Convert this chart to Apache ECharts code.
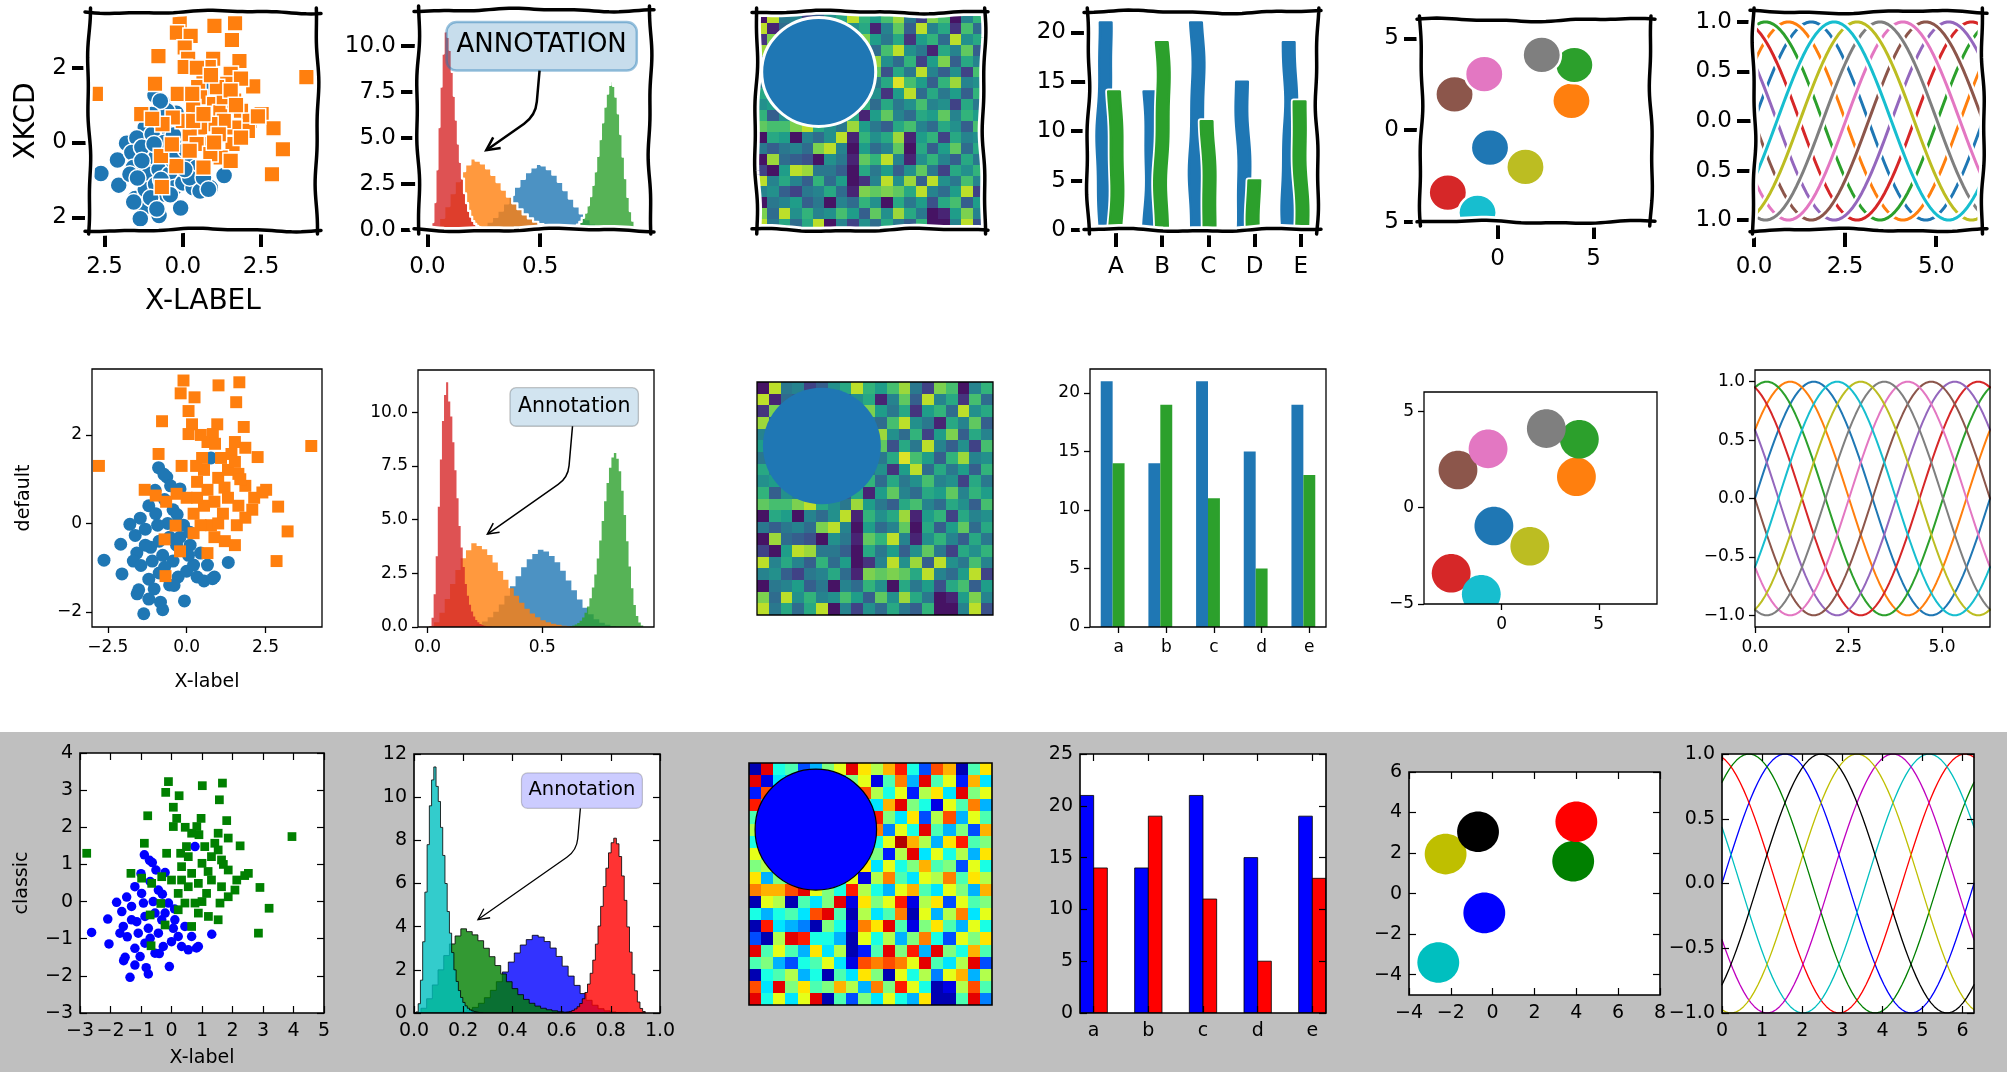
<!DOCTYPE html>
<html>
<head>
<meta charset="utf-8">
<script src="https://cdn.jsdelivr.net/npm/echarts@6.0.0/dist/echarts.min.js"></script>
<style>
  html, body { margin: 0; padding: 0; background: #ffffff; }
  #chart { width: 2007px; height: 1072px; }
</style>
</head>
<body>
<div id="chart"></div>
<script>
// ---------------------------------------------------------------------------
// Data
// ---------------------------------------------------------------------------

// Scatter: two point clouds (circles and squares)
const blueX = [-2.62,-2.09,-2.05,-1.80,-1.52,-1.20,-1.36,-0.76,-0.07,-0.89,-0.63,-0.21,-1.20,-1.47,-0.98,-1.63,-1.31,-1.58,-1.14,-0.87,-0.54,-1.09,-0.76,-0.43,-1.20,-0.87,-0.27,0.00,0.33,0.55,0.88,1.32,0.77,0.11,0.44,-0.10,-0.43,-0.70,-0.32,-1.69,-0.54,0.22,0.66,-1.31,-0.60,-0.92,0.06,-0.21,-0.70,-1.03,-0.40,0.82,-1.57,-0.83,-0.51,-0.72,-1.00,-0.30,0.10,-1.45];
const blueY = [-0.83,-0.47,-1.14,-0.02,-1.50,-1.71,-2.04,-1.95,-1.75,1.26,1.05,0.78,0.40,0.12,0.22,-0.27,-0.13,-0.67,-0.54,-0.40,-0.31,-0.85,-0.72,-0.85,-1.26,-1.12,-1.21,-1.08,-1.21,-1.30,-1.21,-0.88,1.48,-0.49,-0.67,-0.04,0.31,0.54,-0.49,-0.85,-1.39,-0.94,-0.94,-0.49,0.00,-0.04,-0.72,-0.31,-0.99,-1.48,-1.40,-1.25,-1.59,-1.78,0.85,1.11,0.75,0.20,-0.20,-0.95];
const squareX = [-2.78,-0.10,-0.19,0.25,1.01,1.67,1.57,0.06,0.17,0.06,-0.78,0.97,1.81,-0.89,-0.16,-1.33,2.25,2.52,2.85,0.66,0.83,1.53,1.42,1.86,0.49,0.55,0.33,1.00,1.20,1.64,1.86,2.14,2.08,1.64,1.31,0.88,0.55,0.22,0.00,-0.32,-0.65,-0.98,0.77,0.44,1.59,1.86,1.21,1.53,0.88,0.66,-0.21,-0.70,-0.67,-0.35,1.31,1.09,1.53,0.33,0.66,1.15,0.22,3.95,3.20,2.90,0.45,1.70,0.90,0.30,2.40,1.00];
const squareY = [1.30,3.23,2.94,2.85,3.12,3.19,2.74,2.54,2.24,2.02,2.31,2.24,2.18,1.57,1.30,0.76,1.50,0.76,-0.85,1.84,2.02,1.84,1.57,1.71,1.48,1.21,0.94,1.03,0.81,1.12,0.85,0.58,0.31,0.40,0.58,0.49,0.40,0.22,0.58,0.67,0.49,0.63,-0.04,-0.04,-0.04,0.13,-0.40,-0.49,-0.31,-0.67,-0.63,-0.36,-1.19,-0.05,1.21,1.48,1.39,0.58,0.76,0.22,-0.22,1.75,-0.18,0.38,2.00,1.00,1.80,1.30,0.70,0.00];

// Histograms (density, 30 bins each): bin range and bar heights
const histLo = [0.14, 0.005, 0.62, 0.008];
const histHi = [0.87, 0.700, 0.94, 0.280];
const histCenterPeak = [0.01,0.03,0.07,0.14,0.26,0.45,0.71,1.05,1.45,1.90,2.36,2.78,3.15,3.40,3.60,3.52,3.31,3.01,2.62,2.17,1.71,1.28,0.90,0.59,0.36,0.20,0.10,0.05,0.02,0.01];
const histLowSkew = [0.02,0.22,0.66,1.30,2.00,2.66,3.20,3.57,3.90,3.77,3.62,3.35,3.00,2.61,2.20,1.81,1.45,1.13,0.85,0.63,0.45,0.32,0.22,0.15,0.10,0.06,0.04,0.02,0.01,0.005];
const histHighPeak = [0.04,0.07,0.12,0.19,0.29,0.44,0.66,0.95,1.34,1.84,2.45,3.19,4.03,4.94,5.86,6.71,7.42,7.89,8.10,7.84,7.25,6.35,5.22,3.99,2.82,1.80,1.03,0.51,0.21,0.07];
const histNarrow = [0.05,0.43,1.52,3.30,5.60,7.80,9.60,10.80,11.40,10.50,9.80,8.60,7.30,6.00,4.70,3.70,2.80,2.00,1.46,1.04,0.72,0.49,0.33,0.22,0.14,0.09,0.06,0.04,0.02,0.01];
const histHeights = [histCenterPeak, histLowSkew, histHighPeak, histNarrow];
const annotationTarget = [0.25, 4.25];

// Image: 20 x 20 grid of values in [0, 1], plus a round patch
const imageRows = [
  [0.05,0.90,0.40,0.45,0.20,0.30,0.50,0.60,0.90,0.65,0.55,0.70,0.85,0.40,0.20,0.80,0.70,0.05,0.45,0.65],
  [0.90,0.10,0.35,0.30,0.20,0.20,0.20,0.30,0.50,0.60,0.10,0.45,0.75,0.30,0.90,0.45,0.60,0.15,0.70,0.35],
  [0.15,0.80,0.40,0.20,0.20,0.20,0.20,0.30,0.50,0.80,0.55,0.40,0.60,0.15,0.55,0.65,0.35,0.90,0.50,0.60],
  [0.85,0.30,0.50,0.20,0.20,0.20,0.20,0.30,0.60,0.45,0.35,0.70,0.90,0.50,0.40,0.10,0.60,0.45,0.75,0.30],
  [0.45,0.60,0.30,0.20,0.20,0.20,0.20,0.30,0.70,0.30,0.85,0.50,0.35,0.65,0.20,0.55,0.80,0.30,0.60,0.45],
  [0.55,0.35,0.20,0.20,0.20,0.20,0.20,0.30,0.45,0.55,0.75,0.25,0.60,0.40,0.90,0.45,0.30,0.50,0.20,0.70],
  [0.40,0.70,0.20,0.20,0.20,0.20,0.20,0.30,0.35,0.60,0.40,0.60,0.95,0.70,0.55,0.30,0.65,0.85,0.45,0.50],
  [0.60,0.45,0.20,0.20,0.20,0.20,0.20,0.30,0.70,0.40,0.50,0.15,0.55,0.90,0.35,0.60,0.40,0.55,0.30,0.65],
  [0.50,0.55,0.40,0.20,0.20,0.20,0.20,0.30,0.75,0.65,0.35,0.60,0.40,0.50,0.70,0.45,0.50,0.20,0.60,0.40],
  [0.65,0.30,0.50,0.45,0.20,0.20,0.20,0.30,0.60,0.10,0.55,0.75,0.45,0.35,0.60,0.55,0.75,0.45,0.65,0.55],
  [0.75,0.70,0.70,0.80,0.90,0.60,0.50,0.40,0.85,0.55,0.40,0.30,0.60,0.70,0.45,0.35,0.60,0.50,0.30,0.70],
  [0.05,0.60,0.55,0.05,0.45,0.35,0.50,0.90,0.10,0.65,0.50,0.60,0.85,0.10,0.55,0.65,0.20,0.60,0.45,0.50],
  [0.40,0.30,0.40,0.45,0.35,0.80,0.90,0.45,0.05,0.55,0.35,0.45,0.75,0.05,0.60,0.30,0.55,0.75,0.35,0.60],
  [0.05,0.85,0.35,0.30,0.25,0.05,0.50,0.40,0.10,0.75,0.65,0.90,0.45,0.10,0.50,0.65,0.45,0.30,0.60,0.40],
  [0.20,0.05,0.55,0.90,0.85,0.40,0.40,0.30,0.05,0.60,0.40,0.55,0.30,0.50,0.75,0.40,0.20,0.60,0.50,0.65],
  [0.90,0.45,0.60,0.45,0.30,0.65,0.35,0.55,0.05,0.15,0.45,0.90,0.50,0.85,0.30,0.90,0.50,0.40,0.70,0.45],
  [0.45,0.50,0.30,0.20,0.40,0.45,0.60,0.35,0.10,0.80,0.75,0.80,0.75,0.60,0.90,0.45,0.35,0.55,0.90,0.20],
  [0.05,0.40,0.45,0.55,0.30,0.40,0.05,0.45,0.35,0.65,0.50,0.05,0.60,0.40,0.55,0.25,0.60,0.70,0.30,0.55],
  [0.80,0.35,0.90,0.50,0.65,0.45,0.50,0.70,0.55,0.30,0.75,0.50,0.85,0.60,0.40,0.05,0.10,0.55,0.80,0.45],
  [0.90,0.40,0.60,0.35,0.60,0.90,0.05,0.45,0.20,0.50,0.35,0.60,0.40,0.30,0.65,0.05,0.05,0.45,0.90,0.25]
];
const patchCircle = [5, 5, 5]; // centre x, centre y, radius (pixel units of the image)

// Bars
const barLettersLower = ['a', 'b', 'c', 'd', 'e'];
const barLettersUpper = ['A', 'B', 'C', 'D', 'E'];
const barsFirst = [21, 14, 21, 15, 19];
const barsSecond = [14, 19, 11, 5, 13];
const barWidth = 0.25;

// Coloured circles (radius 1), with their colour-cycle slot
const circleX = [-0.40, 3.85, 4.00, -2.60, -2.25, -0.70, 2.30, 1.45, -1.05];
const circleY = [-0.95, 1.60, 3.55, -3.40, 1.95, 3.05, 4.10, -2.00, -4.50];
const circleSlot = [0, 1, 2, 3, 5, 6, 7, 8, 9];
const circleRadius = 1;

// Sinusoids: one period sampled at 70 steps (first half), phase shifts in steps
const waveHalf = [0,0.0896,0.1786,0.2660,0.3514,0.4339,0.5129,0.5878,0.6581,0.7230,0.7818,0.8346,0.8807,0.9195,0.9511,0.9749,0.9909,0.9990,0.9990,0.9909,0.9749,0.9511,0.9195,0.8807,0.8346,0.7818,0.7230,0.6581,0.5878,0.5129,0.4339,0.3514,0.2660,0.1786,0.0896];
const tenColourShifts = [0, 7, 14, 21, 28, 35, 42, 49, 56, 63];
const sevenColourShifts = [0, 10, 20, 30, 40, 50, 60];
const SPAN = 6.2832;

// Tick positions
const scatterTicksX = [-2.5, 0, 2.5], scatterTicksY = [-2, 0, 2];
const histTicksX = [0, 0.5], histTicksY = [0, 2.5, 5, 7.5, 10];
const barTicksY = [0, 5, 10, 15, 20];
const circleTicksX = [0, 5], circleTicksY = [-5, 0, 5];
const sineTicksX = [0, 2.5, 5], sineTicksY = [-1, -0.5, 0, 0.5, 1];
const classicScatterTicksX = [-3, -2, -1, 0, 1, 2, 3, 4, 5], classicScatterTicksY = [-3, -2, -1, 0, 1, 2, 3, 4];
const classicHistTicksX = [0, 0.2, 0.4, 0.6, 0.8, 1.0], classicHistTicksY = [0, 2, 4, 6, 8, 10, 12];
const classicBarTicksY = [0, 5, 10, 15, 20, 25];
const classicCircleTicksX = [-4, -2, 0, 2, 4, 6, 8], classicCircleTicksY = [-4, -2, 0, 2, 4, 6];
const classicSineTicksX = [0, 1, 2, 3, 4, 5, 6], classicSineTicksY = [-1, -0.5, 0, 0.5, 1];

// ---------------------------------------------------------------------------
// Look and layout
// ---------------------------------------------------------------------------
const FONT = '"DejaVu Sans", "Liberation Sans", sans-serif';
const MINUS = '\u2212';
const TAB10 = ['#1f77b4','#ff7f0e','#2ca02c','#d62728','#9467bd','#8c564b','#e377c2','#7f7f7f','#bcbd22','#17becf'];
const BGRCMYK = ['#0000ff','#008000','#ff0000','#00bfbf','#bf00bf','#bfbf00','#000000'];
const VIRIDIS = ['#440154','#482878','#3e4989','#31688e','#26828e','#1f9e89','#35b779','#6ece58','#b5de2b','#fde725'];
const JET = ['#00007f','#0000ff','#007fff','#00ffff','#7fff7f','#ffff00','#ff7f00','#ff0000','#7f0000'];

const PANEL_RECTS = {
  xkcd:    [[89,12,228,218],[418,10,232,220],[756,12,228,218],[1088,12,229,218],[1421,20,230,202],[1754,12,229,218]],
  default: [[92,369,230,258],[418,370,236,257],[757,382,236,233],[1090,369,236,258],[1424,392,233,212],[1755,370,235,257]],
  classic: [[80,753,244,260],[414,754,246,259],[749,763,243,242],[1080,754,246,259],[1409,772,251,223],[1722,754,252,259]]
};

const LOOK = {
  xkcd:    { font: 23, nameFont: 28, tickLen: 17, tickW: 4, inside: false, xMargin: 26, yMargin: 22, frameW: 3.5, wobble: true, mirror: false, abs: true, xNameGap: 58, yNameGap: 48, marker: 17, lineW: 3, edge: '#ffffff' },
  default: { font: 17, nameFont: 19, tickLen: 6, tickW: 1.3, inside: false, xMargin: 12, yMargin: 10, frameW: 1.3, wobble: false, mirror: false, abs: false, xNameGap: 46, yNameGap: 58, marker: 13, lineW: 2, edge: null },
  classic: { font: 19, nameFont: 19, tickLen: 7, tickW: 1.2, inside: true, xMargin: 9, yMargin: 7, frameW: 1.6, wobble: false, mirror: true, abs: false, xNameGap: 36, yNameGap: 48, marker: 9.5, lineW: 1.3, edge: null }
};

const ANNOTATION = {
  xkcd:    { text: 'ANNOTATION', fontSize: 26, pad: 10, radius: 10, fill: 'rgba(31,119,180,0.25)', stroke: 'rgba(31,119,180,0.45)', strokeW: 2.5, lineW: 2.5, head: 13, rad: 14 },
  default: { text: 'Annotation', fontSize: 20.5, pad: 8, radius: 6, fill: 'rgba(31,119,180,0.2)', stroke: 'rgba(0,0,0,0.22)', strokeW: 1.3, lineW: 1.5, head: 11, rad: 12 },
  classic: { text: 'Annotation', fontSize: 19.5, pad: 7, radius: 6, fill: 'rgba(0,0,255,0.2)', stroke: 'rgba(0,0,0,0.2)', strokeW: 1.2, lineW: 1.3, head: 11, rad: 12 }
};

const EXT_MODERN = {
  scatter: { x: [-3.0, 4.29], y: [-2.34, 3.49] },
  hist:    { x: [-0.042, 0.987], y: [0, 11.97] },
  image:   { x: [-0.5, 19.5], y: [-0.5, 19.5] },
  bars:    { x: [-0.35, 4.6], y: [0, 22.05] },
  circles: { x: [-4, 8], y: [-5, 6] },
  sines:   { x: [0, SPAN], y: [-1.1, 1.1] }
};
const EXT_CLASSIC = {
  scatter: { x: [-3, 5], y: [-3, 4] },
  hist:    { x: [0, 1], y: [0, 12] },
  image:   { x: [-0.5, 19.5], y: [-0.5, 19.5] },
  bars:    { x: [0, 4.5], y: [0, 25] },
  circles: { x: [-4, 8], y: [-5, 6] },
  sines:   { x: [0, SPAN], y: [-1, 1] }
};

// ---------------------------------------------------------------------------
// Helpers
// ---------------------------------------------------------------------------
const measureCtx = document.createElement('canvas').getContext('2d');
function textWidth(t, font) { measureCtx.font = font; return measureCtx.measureText(t).width; }

function fmt(v, dec, abs) {
  const val = abs ? Math.abs(v) : v;
  const s = Math.abs(val).toFixed(dec);
  return (val < -1e-9 ? MINUS : '') + s;
}

function rgba(hex, a) {
  const n = parseInt(hex.slice(1), 16);
  return 'rgba(' + ((n >> 16) & 255) + ',' + ((n >> 8) & 255) + ',' + (n & 255) + ',' + a + ')';
}

// hand-drawn looking edge for the xkcd panels
function wobblePoints(x0, y0, x1, y1, seed, amp) {
  const a = amp === undefined ? 1 : amp;
  const len = Math.hypot(x1 - x0, y1 - y0) || 1;
  const n = Math.max(2, Math.ceil(len / 5));
  const nx = -(y1 - y0) / len, ny = (x1 - x0) / len;
  const pts = [];
  for (let i = 0; i <= n; i++) {
    const t = i / n, d = t * len;
    const off = a * (1.3 * Math.sin(seed + d / 29) + 0.6 * Math.sin(seed * 2.3 + d / 11));
    pts.push([x0 + (x1 - x0) * t + nx * off, y0 + (y1 - y0) * t + ny * off]);
  }
  return pts;
}

// sideways bend shared by both long edges of a hand-drawn bar
function bend(y, seed) {
  return 1.5 * Math.sin(seed + y / 31) + 0.5 * Math.sin(seed * 1.7 + y / 12);
}

const option = {
  animation: false,
  backgroundColor: '#ffffff',
  graphic: [{ type: 'rect', z: -5, silent: true, shape: { x: 0, y: 732, width: 2007, height: 340 }, style: { fill: '#bfbfbf' } }],
  grid: [], xAxis: [], yAxis: [], series: [], visualMap: []
};

function makeAxis(dim, g, st, range, ticks, formatter, name, inverse, position, withLabels) {
  const showTicks = !!(ticks && ticks.length);
  const ax = {
    type: 'value', gridIndex: g, min: range[0], max: range[1], inverse: !!inverse, z: 6,
    position: position,
    axisLine: { show: false, onZero: false },
    splitLine: { show: false },
    axisTick: { show: showTicks, inside: st.inside, length: st.tickLen, customValues: showTicks ? ticks : undefined, lineStyle: { color: '#000', width: st.tickW } },
    axisLabel: { show: showTicks && withLabels, customValues: showTicks ? ticks : undefined, formatter: formatter,
                 margin: dim === 'x' ? st.xMargin : st.yMargin, color: '#000', fontFamily: FONT, fontSize: st.font,
                 hideOverlap: false, showMinLabel: true, showMaxLabel: true }
  };
  if (name) {
    ax.name = name;
    ax.nameLocation = 'middle';
    ax.nameGap = dim === 'x' ? st.xNameGap : st.yNameGap;
    ax.nameTextStyle = { fontFamily: FONT, fontSize: st.nameFont, color: '#000' };
  }
  return ax;
}

function frameSeries(xi, yi, ext, st) {
  return {
    type: 'custom', xAxisIndex: xi, yAxisIndex: yi, z: 8, silent: true, clip: false,
    data: [[ext.x[0], ext.y[0], ext.x[1], ext.y[1]]],
    renderItem: function (params, api) {
      const a = api.coord([api.value(0), api.value(1)]);
      const b = api.coord([api.value(2), api.value(3)]);
      const x0 = Math.min(a[0], b[0]), x1 = Math.max(a[0], b[0]);
      const y0 = Math.min(a[1], b[1]), y1 = Math.max(a[1], b[1]);
      if (!st.wobble) {
        return { type: 'rect', shape: { x: x0, y: y0, width: x1 - x0, height: y1 - y0 },
                 style: { fill: 'none', stroke: '#000', lineWidth: st.frameW } };
      }
      const e = 4;
      const sides = [[x0 - e, y0, x1 + e, y0], [x1, y0 - e, x1, y1 + e], [x1 + e, y1, x0 - e, y1], [x0, y1 + e, x0, y0 - e]];
      const children = [];
      sides.forEach(function (s, k) {
        children.push({ type: 'polyline', shape: { points: wobblePoints(s[0], s[1], s[2], s[3], k * 1.9 + xi) },
                        style: { fill: 'none', stroke: '#ffffff', lineWidth: 9, lineCap: 'round' } });
      });
      sides.forEach(function (s, k) {
        children.push({ type: 'polyline', shape: { points: wobblePoints(s[0], s[1], s[2], s[3], k * 1.9 + xi) },
                        style: { fill: 'none', stroke: '#000', lineWidth: st.frameW, lineCap: 'round' } });
      });
      return { type: 'group', children: children };
    }
  };
}

function panel(key, idx, ext, ticks, names) {
  const st = LOOK[key];
  const r = PANEL_RECTS[key][idx];
  const g = option.grid.length;
  option.grid.push({ left: r[0], top: r[1], width: r[2], height: r[3], show: true, backgroundColor: '#ffffff',
                     borderWidth: 0, outerBoundsMode: 'none', containLabel: false });
  const xi = option.xAxis.length, yi = option.yAxis.length;
  option.xAxis.push(makeAxis('x', g, st, ext.x, ticks.x, ticks.xfmt, names.x, false, 'bottom', true));
  option.yAxis.push(makeAxis('y', g, st, ext.y, ticks.y, ticks.yfmt, names.y, names.yInverse, 'left', true));
  if (st.mirror && ticks.x && ticks.x.length) {
    option.xAxis.push(makeAxis('x', g, st, ext.x, ticks.x, null, null, false, 'top', false));
    option.yAxis.push(makeAxis('y', g, st, ext.y, ticks.y, null, null, names.yInverse, 'right', false));
  }
  return { xi: xi, yi: yi, ext: ext, st: st };
}

function scatterSeries(p, xs, ys, symbol, size, color) {
  return {
    type: 'scatter', xAxisIndex: p.xi, yAxisIndex: p.yi, silent: true, z: 2,
    symbol: symbol, symbolSize: size,
    itemStyle: { color: color, opacity: 1, borderColor: p.st.edge || color, borderWidth: p.st.edge ? 1.5 : 0 },
    data: xs.map(function (x, i) { return [x, ys[i]]; })
  };
}

function histSeries(p, k, color, stroke, strokeW) {
  const lo = histLo[k], hi = histHi[k], hs = histHeights[k];
  const w = (hi - lo) / hs.length;
  return {
    type: 'custom', xAxisIndex: p.xi, yAxisIndex: p.yi, z: 2, silent: true, clip: true,
    data: [[lo, 0]],
    renderItem: function (params, api) {
      const pts = [api.coord([lo, 0])];
      hs.forEach(function (h, i) {
        pts.push(api.coord([lo + i * w, h]));
        pts.push(api.coord([lo + (i + 1) * w, h]));
      });
      pts.push(api.coord([hi, 0]));
      return { type: 'polygon', shape: { points: pts },
               style: { fill: rgba(color, 0.8), stroke: stroke || 'none', lineWidth: strokeW || 0, lineJoin: 'round' } };
    }
  };
}

function annotationSeries(p, ann) {
  const ext = p.ext;
  return {
    type: 'custom', xAxisIndex: p.xi, yAxisIndex: p.yi, z: 7, silent: true, clip: false,
    data: [annotationTarget],
    renderItem: function (params, api) {
      const B = api.coord([api.value(0), api.value(1)]);
      const anchor = api.coord([ext.x[0] + 0.9 * (ext.x[1] - ext.x[0]), ext.y[0] + 0.9 * (ext.y[1] - ext.y[0])]);
      const font = ann.fontSize + 'px ' + FONT;
      const tw = textWidth(ann.text, font), th = ann.fontSize * 1.1;
      const pad = ann.pad;
      const x1 = anchor[0] + pad, y0 = anchor[1] - pad;
      const x0 = anchor[0] - tw - pad, y1 = anchor[1] + th + pad;
      const A = [(x0 + x1) / 2, (y0 + y1) / 2];
      const ra = -95 * Math.PI / 180, rb = 35 * Math.PI / 180;
      const dA = [Math.cos(ra), -Math.sin(ra)];
      const dB = [Math.cos(rb), -Math.sin(rb)];
      const det = -dA[0] * dB[1] + dB[0] * dA[1];
      const s = (-(B[0] - A[0]) * dB[1] + dB[0] * (B[1] - A[1])) / det;
      const C = [A[0] + s * dA[0], A[1] + s * dA[1]];
      const S = [A[0] + ((y1 - A[1]) / dA[1]) * dA[0], y1];
      const vx = B[0] - C[0], vy = B[1] - C[1], lb = Math.hypot(vx, vy);
      const u = [vx / lb, vy / lb];
      const P1 = [C[0] - ann.rad * dA[0], C[1] - ann.rad * dA[1]];
      const P2 = [C[0] + ann.rad * u[0], C[1] + ann.rad * u[1]];
      const E = [B[0] - 3 * u[0], B[1] - 3 * u[1]];
      const path = 'M' + S[0] + ' ' + S[1] + ' L' + P1[0] + ' ' + P1[1] + ' Q' + C[0] + ' ' + C[1] + ' ' + P2[0] + ' ' + P2[1] + ' L' + E[0] + ' ' + E[1];
      const hl = ann.head, hw = ann.head * 0.5, n = [-u[1], u[0]];
      const head = [[E[0] - hl * u[0] + hw * n[0], E[1] - hl * u[1] + hw * n[1]], E,
                    [E[0] - hl * u[0] - hw * n[0], E[1] - hl * u[1] - hw * n[1]]];
      return { type: 'group', children: [
        { type: 'rect', shape: { x: x0, y: y0, width: x1 - x0, height: y1 - y0, r: ann.radius },
          style: { fill: ann.fill, stroke: ann.stroke, lineWidth: ann.strokeW } },
        { type: 'text', style: { text: ann.text, x: anchor[0], y: anchor[1], align: 'right', verticalAlign: 'top', font: font, fill: '#000' } },
        { type: 'path', shape: { pathData: path }, style: { fill: 'none', stroke: '#000', lineWidth: ann.lineW } },
        { type: 'polyline', shape: { points: head }, style: { fill: 'none', stroke: '#000', lineWidth: ann.lineW } }
      ] };
    }
  };
}

function imageSeries(p) {
  const cells = [];
  imageRows.forEach(function (row, r) { row.forEach(function (v, c) { cells.push([c, r, v]); }); });
  return {
    type: 'custom', xAxisIndex: p.xi, yAxisIndex: p.yi, z: 2, silent: true, clip: true,
    data: cells,
    renderItem: function (params, api) {
      const c = api.value(0), r = api.value(1);
      const a = api.coord([c - 0.5, r - 0.5]), b = api.coord([c + 0.5, r + 0.5]);
      const x0 = Math.round(Math.min(a[0], b[0])), x1 = Math.round(Math.max(a[0], b[0]));
      const y0 = Math.round(Math.min(a[1], b[1])), y1 = Math.round(Math.max(a[1], b[1]));
      return { type: 'rect', shape: { x: x0, y: y0, width: x1 - x0, height: y1 - y0 }, style: { fill: api.visual('color') } };
    }
  };
}

function patchSeries(p, fill, stroke, strokeW) {
  return {
    type: 'custom', xAxisIndex: p.xi, yAxisIndex: p.yi, z: 3, silent: true, clip: true,
    data: [patchCircle],
    renderItem: function (params, api) {
      const c = api.coord([api.value(0), api.value(1)]);
      const rr = api.size([api.value(2), api.value(2)]);
      return { type: 'ellipse', shape: { cx: c[0], cy: c[1], rx: Math.abs(rr[0]), ry: Math.abs(rr[1]) },
               style: { fill: fill, stroke: stroke || 'none', lineWidth: strokeW || 0 } };
    }
  };
}

function barSeries(p, values, centerOffset, color, stroke, strokeW, wobbly) {
  return {
    type: 'custom', xAxisIndex: p.xi, yAxisIndex: p.yi, z: 2, silent: true, clip: true,
    data: values.map(function (v, i) { return [i + centerOffset, v]; }),
    renderItem: function (params, api) {
      const x = api.value(0), v = api.value(1);
      const a = api.coord([x - barWidth / 2, 0]), b = api.coord([x + barWidth / 2, v]);
      const x0 = Math.min(a[0], b[0]), x1 = Math.max(a[0], b[0]);
      const y0 = Math.min(a[1], b[1]), y1 = Math.max(a[1], b[1]);
      if (!wobbly) {
        return { type: 'rect', shape: { x: x0, y: y0, width: x1 - x0, height: y1 - y0 },
                 style: { fill: color, stroke: stroke || 'none', lineWidth: strokeW || 0 } };
      }
      // hand-drawn bar: white halo, then the bar with an edge of its own colour
      const seed = params.dataIndex * 2.7 + centerOffset * 9;
      const pts = [];
      const steps = Math.max(2, Math.ceil((y1 - y0) / 5));
      for (let i = 0; i <= steps; i++) { const y = y0 + (y1 - y0) * i / steps; pts.push([x0 + bend(y, seed), y]); }
      for (let i = steps; i >= 0; i--) { const y = y0 + (y1 - y0) * i / steps; pts.push([x1 + bend(y, seed), y]); }
      return { type: 'group', children: [
        { type: 'polygon', shape: { points: pts }, style: { fill: '#ffffff', stroke: '#ffffff', lineWidth: 6, lineJoin: 'round' } },
        { type: 'polygon', shape: { points: pts }, style: { fill: color, stroke: color, lineWidth: 2.5, lineJoin: 'round' } }
      ] };
    }
  };
}

function circleSeries(p, colors, stroke, strokeW) {
  const items = [];
  circleX.forEach(function (x, i) { if (circleSlot[i] < colors.length) items.push([x, circleY[i], circleSlot[i]]); });
  return {
    type: 'custom', xAxisIndex: p.xi, yAxisIndex: p.yi, z: 2, silent: true, clip: true,
    data: items,
    renderItem: function (params, api) {
      const c = api.coord([api.value(0), api.value(1)]);
      const rr = api.size([circleRadius, circleRadius]);
      const col = colors[api.value(2)];
      return { type: 'ellipse', shape: { cx: c[0], cy: c[1], rx: Math.abs(rr[0]), ry: Math.abs(rr[1]) },
               style: { fill: col, stroke: stroke || col, lineWidth: strokeW || 0 } };
    }
  };
}

const waveFull = waveHalf.concat(waveHalf.map(function (v) { return -v; }));
function sineData(shift) {
  const n = waveFull.length, pts = [];
  for (let i = 0; i <= n; i++) pts.push([SPAN * i / n, waveFull[(i + shift) % n]]);
  return pts;
}
function lineSeries(p, data, color, width) {
  return { type: 'line', xAxisIndex: p.xi, yAxisIndex: p.yi, silent: true, z: 2, clip: true,
           showSymbol: false, symbol: 'none', data: data, lineStyle: { color: color, width: width, cap: 'round', join: 'round' } };
}

// ---------------------------------------------------------------------------
// One row of six panels per style
// ---------------------------------------------------------------------------
const viridisSeries = [], jetSeries = [];

function buildRow(key) {
  const st = LOOK[key];
  const classic = key === 'classic';
  const xk = key === 'xkcd';
  const cyc = classic ? BGRCMYK : TAB10;
  const ext = classic ? EXT_CLASSIC : EXT_MODERN;
  const F = function (d) { return function (v) { return fmt(v, d, st.abs); }; };

  // 1. scatter
  let p = panel(key, 0, ext.scatter,
    { x: classic ? classicScatterTicksX : scatterTicksX, y: classic ? classicScatterTicksY : scatterTicksY,
      xfmt: F(classic ? 0 : 1), yfmt: F(0) },
    { x: xk ? 'X-LABEL' : 'X-label', y: xk ? 'XKCD' : key });
  option.series.push(scatterSeries(p, blueX, blueY, 'circle', st.marker, cyc[0]));
  option.series.push(scatterSeries(p, squareX, squareY, 'rect', st.marker * 0.92, cyc[1]));
  option.series.push(frameSeries(p.xi, p.yi, p.ext, st));

  // 2. histograms + annotation
  p = panel(key, 1, ext.hist,
    { x: classic ? classicHistTicksX : histTicksX, y: classic ? classicHistTicksY : histTicksY,
      xfmt: F(1), yfmt: F(classic ? 0 : 1) }, {});
  for (let k = 0; k < 4; k++) {
    if (classic) option.series.push(histSeries(p, k, cyc[k], 'rgba(0,0,0,0.8)', 1));
    else if (xk) option.series.push(histSeries(p, k, cyc[k], '#ffffff', 2.2));
    else option.series.push(histSeries(p, k, cyc[k]));
  }
  option.series.push(annotationSeries(p, ANNOTATION[key]));
  option.series.push(frameSeries(p.xi, p.yi, p.ext, st));

  // 3. image with a round patch
  p = panel(key, 2, ext.image, { x: [], y: [] }, { yInverse: true });
  (classic ? jetSeries : viridisSeries).push(option.series.length);
  option.series.push(imageSeries(p));
  if (classic) option.series.push(patchSeries(p, '#0000ff', '#000000', 1.2));
  else if (xk) option.series.push(patchSeries(p, TAB10[0], '#ffffff', 3));
  else option.series.push(patchSeries(p, TAB10[0]));
  option.series.push(frameSeries(p.xi, p.yi, p.ext, st));

  // 4. bars
  const letters = xk ? barLettersUpper : barLettersLower;
  const barTicksX = letters.map(function (l, i) { return i + barWidth; });
  p = panel(key, 3, ext.bars,
    { x: barTicksX, y: classic ? classicBarTicksY : barTicksY,
      xfmt: function (v) { return letters[Math.round(v - barWidth)]; }, yfmt: F(0) }, {});
  const offs = classic ? [barWidth / 2, barWidth * 1.5] : [0, barWidth];
  const edgeColor = classic ? '#000' : null;
  const edgeWidth = classic ? 0.8 : 0;
  option.series.push(barSeries(p, barsFirst, offs[0], cyc[0], edgeColor, edgeWidth, xk));
  option.series.push(barSeries(p, barsSecond, offs[1], cyc[2], edgeColor, edgeWidth, xk));
  option.series.push(frameSeries(p.xi, p.yi, p.ext, st));

  // 5. coloured circles
  p = panel(key, 4, ext.circles,
    { x: classic ? classicCircleTicksX : circleTicksX, y: classic ? classicCircleTicksY : circleTicksY,
      xfmt: F(0), yfmt: F(0) }, {});
  option.series.push(circleSeries(p, cyc, xk ? '#ffffff' : null, xk ? 2.5 : 0));
  option.series.push(frameSeries(p.xi, p.yi, p.ext, st));

  // 6. phase-shifted sinusoids
  p = panel(key, 5, ext.sines,
    { x: classic ? classicSineTicksX : sineTicksX, y: classic ? classicSineTicksY : sineTicksY,
      xfmt: F(classic ? 0 : 1), yfmt: F(1) }, {});
  const shifts = classic ? sevenColourShifts : tenColourShifts;
  shifts.forEach(function (s, j) {
    const data = sineData(s);
    if (xk) option.series.push(lineSeries(p, data, '#ffffff', st.lineW + 4.5));
    option.series.push(lineSeries(p, data, cyc[j], st.lineW));
  });
  option.series.push(frameSeries(p.xi, p.yi, p.ext, st));
}

buildRow('xkcd');
buildRow('default');
buildRow('classic');

option.visualMap = [
  { type: 'continuous', show: false, min: 0, max: 1, dimension: 2, seriesIndex: viridisSeries, inRange: { color: VIRIDIS } },
  { type: 'continuous', show: false, min: 0, max: 1, dimension: 2, seriesIndex: jetSeries, inRange: { color: JET } }
];

const chart = echarts.init(document.getElementById('chart'), null, { renderer: 'canvas', width: 2007, height: 1072 });
chart.setOption(option);
</script>
</body>
</html>
